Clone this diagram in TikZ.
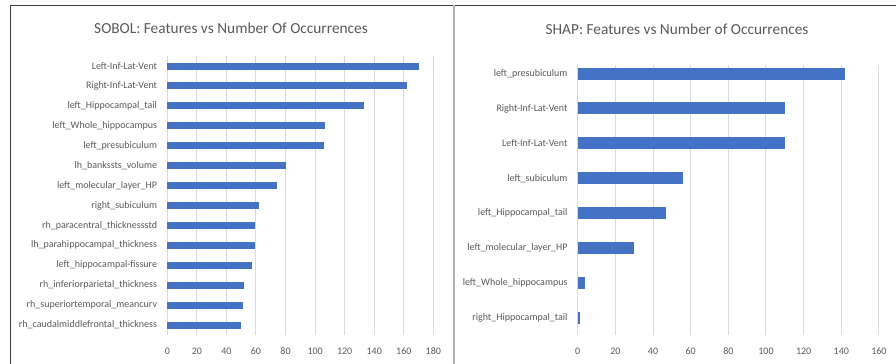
\documentclass[tikz,border=0pt]{standalone}
\usepackage{fontspec}
\setmainfont{Carlito}
\definecolor{barblue}{HTML}{4472C4}
\definecolor{txtgray}{HTML}{595959}
\definecolor{gridgray}{HTML}{D9D9D9}
\definecolor{framegray}{HTML}{404040}
\begin{document}
\begin{tikzpicture}[x=0.75pt,y=-0.75pt,
  lab/.style={anchor=east, inner sep=0pt, xshift=-7.5pt, text=txtgray, font=\fontsize{7.5}{9}\selectfont},
  tck/.style={inner sep=0pt, text=txtgray, font=\fontsize{7.5}{9}\selectfont},
  ttl/.style={inner sep=0pt, text=txtgray, font=\fontsize{11.5}{14}\selectfont},
  bar/.style={fill=barblue},
  gline/.style={draw=gridgray, line width=0.75pt}]
\useasboundingbox (0,0) rectangle (896,364);
\draw[framegray, line width=1.1pt] (10,5.5) -- (896,5.5);
\draw[framegray, line width=1.1pt] (10.5,5) -- (10.5,364);
\draw[gray!60, line width=2.2pt] (454,5) -- (454,364);
\node[ttl] (sobtitle) at (231,28) {SOBOL: Features vs Number Of Occurrences};
\node[ttl] (shptitle) at (677,29) {SHAP: Features vs Number of Occurrences};
\begin{scope}[shift={(167.3,0)}, x=1.1085pt]
\draw[gline] (0,56) -- (0,335);
\draw[gline] (20,56) -- (20,335);
\draw[gline] (40,56) -- (40,335);
\draw[gline] (60,56) -- (60,335);
\draw[gline] (80,56) -- (80,335);
\draw[gline] (100,56) -- (100,335);
\draw[gline] (120,56) -- (120,335);
\draw[gline] (140,56) -- (140,335);
\draw[gline] (160,56) -- (160,335);
\draw[gline] (180,56) -- (180,335);
\node[tck] (sobt0) at (0,351) {0};
\node[tck] (sobt20) at (20,351) {20};
\node[tck] (sobt40) at (40,351) {40};
\node[tck] (sobt60) at (60,351) {60};
\node[tck] (sobt80) at (80,351) {80};
\node[tck] (sobt100) at (100,351) {100};
\node[tck] (sobt120) at (120,351) {120};
\node[tck] (sobt140) at (140,351) {140};
\node[tck] (sobt160) at (160,351) {160};
\node[tck] (sobt180) at (180,351) {180};
\fill[bar] (0,62.5) rectangle (170,69.5);
\node[lab] (sob0) at (0,66) {Left-Inf-Lat-Vent};
\fill[bar] (0,82.4) rectangle (162,89.4);
\node[lab] (sob1) at (0,85.9) {Right-Inf-Lat-Vent};
\fill[bar] (0,102.3) rectangle (133,109.3);
\node[lab] (sob2) at (0,105.8) {left\_Hippocampal\_tail};
\fill[bar] (0,122.3) rectangle (107,129.3);
\node[lab] (sob3) at (0,125.8) {left\_Whole\_hippocampus};
\fill[bar] (0,142.2) rectangle (106,149.2);
\node[lab] (sob4) at (0,145.7) {left\_presubiculum};
\fill[bar] (0,162.1) rectangle (80,169.1);
\node[lab] (sob5) at (0,165.6) {lh\_bankssts\_volume};
\fill[bar] (0,182) rectangle (74,189);
\node[lab] (sob6) at (0,185.5) {left\_molecular\_layer\_HP};
\fill[bar] (0,201.9) rectangle (62,208.9);
\node[lab] (sob7) at (0,205.4) {right\_subiculum};
\fill[bar] (0,221.9) rectangle (59,228.9);
\node[lab] (sob8) at (0,225.4) {rh\_paracentral\_thicknessstd};
\fill[bar] (0,241.8) rectangle (59,248.8);
\node[lab] (sob9) at (0,245.3) {lh\_parahippocampal\_thickness};
\fill[bar] (0,261.7) rectangle (57,268.7);
\node[lab] (sob10) at (0,265.2) {left\_hippocampal-fissure};
\fill[bar] (0,281.6) rectangle (52,288.6);
\node[lab] (sob11) at (0,285.1) {rh\_inferiorparietal\_thickness};
\fill[bar] (0,301.5) rectangle (51,308.5);
\node[lab] (sob12) at (0,305) {rh\_superiortemporal\_meancurv};
\fill[bar] (0,321.5) rectangle (50,328.5);
\node[lab] (sob13) at (0,325) {rh\_caudalmiddlefrontal\_thickness};
\end{scope}
\begin{scope}[shift={(577.7,0)}, x=1.412pt]
\draw[gline] (0,65) -- (0,335);
\draw[gline] (20,65) -- (20,335);
\draw[gline] (40,65) -- (40,335);
\draw[gline] (60,65) -- (60,335);
\draw[gline] (80,65) -- (80,335);
\draw[gline] (100,65) -- (100,335);
\draw[gline] (120,65) -- (120,335);
\draw[gline] (140,65) -- (140,335);
\draw[gline] (160,65) -- (160,335);
\node[tck] (shpt0) at (0,351) {0};
\node[tck] (shpt20) at (20,351) {20};
\node[tck] (shpt40) at (40,351) {40};
\node[tck] (shpt60) at (60,351) {60};
\node[tck] (shpt80) at (80,351) {80};
\node[tck] (shpt100) at (100,351) {100};
\node[tck] (shpt120) at (120,351) {120};
\node[tck] (shpt140) at (140,351) {140};
\node[tck] (shpt160) at (160,351) {160};
\fill[bar] (0,67.5) rectangle (142,79.5);
\node[lab] (shp0) at (0,73.5) {left\_presubiculum};
\fill[bar] (0,102.4) rectangle (110,114.4);
\node[lab] (shp1) at (0,108.4) {Right-Inf-Lat-Vent};
\fill[bar] (0,137.3) rectangle (110,149.3);
\node[lab] (shp2) at (0,143.3) {Left-Inf-Lat-Vent};
\fill[bar] (0,172.2) rectangle (56,184.2);
\node[lab] (shp3) at (0,178.2) {left\_subiculum};
\fill[bar] (0,207.1) rectangle (47,219.1);
\node[lab] (shp4) at (0,213.1) {left\_Hippocampal\_tail};
\fill[bar] (0,242) rectangle (30,254);
\node[lab] (shp5) at (0,248) {left\_molecular\_layer\_HP};
\fill[bar] (0,276.9) rectangle (4,288.9);
\node[lab] (shp6) at (0,282.9) {left\_Whole\_hippocampus};
\fill[bar] (0,311.8) rectangle (1,323.8);
\node[lab] (shp7) at (0,317.8) {right\_Hippocampal\_tail};
\end{scope}
\end{tikzpicture}
\end{document}
